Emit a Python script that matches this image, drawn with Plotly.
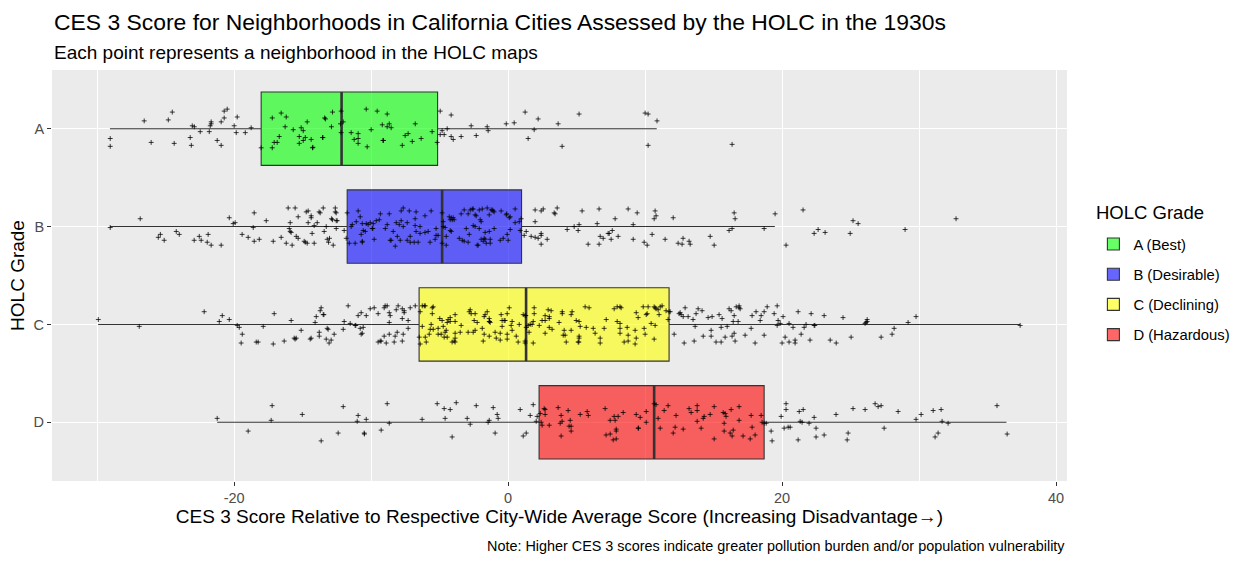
import plotly.graph_objects as go

# ---------------- data ----------------
grades = ["A", "B", "C", "D"]
grade_labels = ["A (Best)", "B (Desirable)", "C (Declining)", "D (Hazardous)"]
grade_colors = ["rgba(0,255,0,0.6)", "rgba(0,0,255,0.6)", "rgba(255,255,0,0.6)", "rgba(255,0,0,0.6)"]

# box statistics (CES 3 score relative to city average)
lower_fence = [-29.07, -29.07, -29.93, -21.24]
q1_vals = [-18.03, -11.75, -6.50, 2.26]
median_vals = [-12.16, -4.82, 1.31, 10.66]
q3_vals = [-5.15, 0.98, 11.75, 18.69]
upper_fence = [10.85, 19.47, 37.37, 36.38]

# neighborhood points: (score, vertical jitter)
A_pts = [(-29.05,0.10),(-29.05,0.18),(-26.57,-0.08),(-26.06,0.14),(-24.81,-0.09),(-24.52,-0.17),(-24.38,0.15),(-23.21,0.09),(-23.13,0.17),(-23.06,-0.03),(-22.91,-0.02),(-22.48,0.03),(-21.82,0.03),(-21.75,-0.03),(-21.68,-0.05),(-21.68,-0.07),(-21.24,0.12),(-20.95,-0.07),(-20.95,0.17),(-20.73,-0.11),(-20.73,-0.18),(-20.51,-0.20),(-20.00,-0.03),(-19.85,0.04),(-19.78,-0.12),(-19.19,0.04),(-18.76,-0.01),(-18.03,0.195),
(-17.22,-0.11),(-17.22,0.195),(-17.08,0.14),(-16.86,0.14),(-16.71,0.08),(-16.57,-0.16),(-16.28,-0.02),(-16.20,-0.12),(-15.69,0.01),(-15.25,0.08),(-15.25,0.15),(-15.11,-0.01),(-14.96,0.02),(-14.96,0.12),(-14.81,0.09),(-14.67,-0.07),(-14.38,0.11),(-14.28,0.195),(-14.25,0.19),(-13.55,0.09),(-13.52,0.09),(-13.40,-0.11),(-13.33,-0.10),(-12.90,-0.02),(-12.82,-0.17),(-12.24,-0.05),(-12.19,-0.18),(-12.19,0.04),(-12.04,-0.07),(-11.46,0.04),(-11.24,0.11),(-10.95,0.05),(-10.95,0.10),(-10.95,0.15),(-10.36,-0.20),(-10.29,0.185),(-10.00,0.01),(-9.56,-0.18),(-9.19,-0.04),(-9.14,0.12),(-9.10,0.12),(-8.83,-0.15),(-8.83,-0.02),(-8.68,-0.05),(-8.54,-0.01),(-7.73,0.17),(-7.52,0.07),(-7.30,0.05),(-7.00,0.13),(-6.78,-0.05),(-6.35,0.10),(-5.55,0.03),(-5.18,0.14),
(-4.96,-0.18),(-4.96,0.06),(-4.82,0.02),(-4.67,0.06),(-4.45,0.00),(-4.16,-0.14),(-4.16,0.08),(-4.01,0.11),(-3.43,0.08),(-2.70,-0.03),(-2.33,0.07),(-1.53,-0.02),(-1.46,0.02),(-0.14,-0.05),(0.44,-0.06),(1.24,-0.17),(1.46,0.10),(1.90,0.01),(2.19,-0.10),(3.65,-0.05),(3.94,0.18),(5.18,-0.15),(10.00,-0.16),(10.22,-0.15),(10.22,0.17),(10.87,-0.08),(16.35,0.16)]

B_pts = [(-29.05,0.01),(-26.86,-0.08),(-25.54,0.11),(-25.39,0.08),(-25.11,0.14),(-24.23,0.05),(-24.01,0.08),(-22.92,0.14),(-22.55,0.10),(-22.41,0.14),(-21.97,0.16),(-21.90,0.08),(-21.68,0.19),(-20.95,0.19),(-20.36,-0.09),(-20.07,-0.03),(-19.93,-0.04),(-19.42,0.08),(-18.98,0.11),(-18.61,0.01),(-18.54,-0.14),(-18.54,0.15),(-18.17,0.13),(-17.66,-0.06),(-17.15,0.15),(-16.57,0.11),(-16.20,0.17),(-16.06,-0.19),(-15.98,0.02),(-15.91,-0.04),(-15.91,0.05),(-15.84,0.06),(-15.77,0.19),(-15.55,-0.19),(-15.47,0.10),(-15.33,-0.10),(-15.33,0.12),(-14.89,0.15),(-14.81,0.16),(-14.74,-0.15),(-14.67,0.17),(-14.60,-0.16),(-14.60,-0.04),(-14.38,-0.11),(-14.38,-0.09),(-14.31,0.07),(-14.16,-0.01),(-14.16,0.17),(-13.94,-0.04),(-13.80,-0.15),(-13.72,-0.14),(-13.50,-0.19),(-13.43,0.05),(-13.28,0.00),(-13.21,0.13),(-13.11,0.16),(-13.04,0.12),(-12.90,-0.08),(-12.82,-0.07),(-12.77,0.19),(-12.62,-0.19),(-12.62,-0.15),(-12.55,-0.14),(-12.55,-0.06),(-12.48,-0.06),(-12.55,0.02),(-11.97,0.04),(-11.82,0.12),(-11.75,-0.14),
(-11.60,0.17),(-11.46,0.00),(-11.38,-0.02),(-11.17,0.17),(-11.09,-0.05),(-10.95,-0.16),(-10.80,-0.10),(-10.73,0.08),(-10.65,-0.03),(-10.65,0.15),(-10.65,0.16),(-10.58,0.04),(-10.43,0.05),(-10.36,-0.03),(-10.22,-0.02),(-10.07,-0.04),(-9.92,0.02),(-9.88,0.02),(-9.85,-0.03),(-9.78,0.13),(-9.63,-0.06),(-9.41,-0.07),(-9.33,-0.13),(-8.97,0.02),(-8.83,-0.02),(-8.68,-0.13),(-8.61,0.14),(-8.54,0.14),(-8.39,0.05),(-8.24,0.20),(-8.17,-0.04),(-8.09,0.10),(-7.95,-0.02),(-7.88,0.14),(-7.81,-0.06),(-7.81,-0.16),(-7.66,-0.19),(-7.66,0.00),(-7.37,-0.04),(-7.37,0.14),(-7.22,-0.16),(-7.15,0.10),(-7.15,0.16),(-6.86,0.16),(-6.79,-0.08),(-6.79,-0.01),(-6.72,-0.15),(-6.72,0.05),(-6.57,0.16),(-6.43,0.00),(-6.43,0.07),(-6.07,-0.11),(-6.07,0.06),(-5.84,0.05),(-5.70,0.16),(-5.62,-0.16),(-5.33,0.13),(-5.26,0.02),(-5.26,0.09),(-5.11,0.09),
(-4.82,-0.14),(-4.74,-0.05),(-4.74,0.00),(-4.60,0.01),(-4.82,0.17),(-4.52,0.10),(-4.52,0.19),(-4.30,-0.10),(-4.23,-0.07),(-4.15,-0.09),(-4.08,-0.07),(-4.01,-0.09),(-3.94,-0.07),(-4.23,0.04),(-4.15,0.05),(-3.57,0.12),(-3.43,-0.13),(-3.35,0.14),(-3.21,-0.17),(-3.21,0.15),(-3.06,0.02),(-2.92,-0.13),(-2.92,0.16),(-2.84,0.08),(-2.77,-0.17),(-2.62,-0.18),(-2.55,-0.18),(-2.55,-0.01),(-2.41,-0.12),(-2.41,0.00),(-2.33,-0.11),(-2.26,0.19),(-2.19,0.19),(-2.11,0.02),(-2.11,-0.17),(-2.04,-0.07),(-1.97,-0.05),(-1.97,0.13),(-1.89,-0.18),(-1.82,0.15),(-1.75,0.12),(-1.68,0.06),(-1.68,0.13),(-1.60,0.17),(-1.53,-0.19),(-1.38,-0.12),(-1.38,0.05),(-1.31,0.13),(-1.31,0.17),(-1.24,-0.17),(-1.16,-0.17),(-1.09,-0.16),(-1.02,-0.15),(-1.02,0.02),(-0.58,0.14),(-0.51,-0.16),(-0.36,0.12),(-0.14,-0.12),(-0.10,-0.13),(-0.07,0.08),(0.00,0.14),(0.08,-0.09),(0.15,-0.10),(0.15,0.03),(0.51,-0.18),(0.51,-0.04),(0.81,-0.05),(0.88,0.04),(0.95,-0.08),
(1.17,0.09),(1.32,0.05),(1.68,0.10),(1.97,-0.17),(1.97,-0.05),(1.97,0.11),(2.19,0.12),(2.41,-0.16),(2.41,0.07),(2.41,0.09),(2.41,0.18),(2.56,-0.18),(2.85,0.13),(3.36,-0.14),(3.43,-0.13),(3.58,-0.19),(4.31,0.03),(4.82,0.00),(5.11,0.04),(5.18,-0.02),(5.40,-0.16),(5.84,0.18),(6.50,-0.03),(6.64,-0.18),(6.64,0.18),(6.72,0.10),(6.94,0.12),(7.30,0.07),(7.38,0.07),(7.52,0.13),(7.60,0.04),(7.81,-0.08),(8.03,0.10),(8.76,-0.18),(9.13,-0.02),(9.13,0.13),(9.42,-0.14),(9.93,0.16),(10.15,0.19),(10.51,0.08),(10.66,-0.08),(10.73,-0.16),(10.80,-0.11),(11.46,0.13),(12.05,-0.09),(12.41,0.17),(12.70,0.18),(12.77,0.12),(13.21,0.15),(13.29,0.18),(14.75,0.10),(15.04,0.19),(16.13,0.04),(16.35,0.02),(16.50,-0.14),(16.57,-0.08),(18.69,0.02),(19.49,-0.13),(20.29,0.19),(21.53,-0.17),(22.34,0.07),(22.63,0.03),(23.14,0.06),(24.97,0.07),(25.18,-0.06),(25.55,-0.03),(28.98,0.03),(32.70,-0.08)]

C_pts = [(-29.92,-0.05),(-26.93,0.02),(-22.19,-0.13),(-21.09,-0.03),(-20.87,-0.09),(-20.36,-0.05),(-19.78,0.01),(-19.63,0.03),(-19.41,0.10),(-19.49,0.19),(-18.39,0.18),(-18.25,0.18),(-17.88,0.02),(-17.15,0.20),(-17.08,-0.11),(-16.35,0.17),(-15.84,-0.04),(-15.62,0.14),(-15.55,0.15),(-15.47,0.14),(-15.11,0.06),(-14.45,0.15),(-14.38,0.14),(-14.09,-0.02),(-14.01,-0.08),(-13.79,0.08),(-13.79,0.12),(-13.72,-0.14),(-13.65,-0.17),(-13.50,-0.10),(-13.45,-0.10),(-13.28,0.15),(-13.21,0.04),(-13.14,0.05),(-13.07,0.19),(-12.92,0.16),(-12.70,0.10),(-12.04,0.05),(-11.97,-0.03),(-11.68,-0.19),(-11.53,-0.01),(-11.17,0.01),(-11.12,0.01),(-10.95,-0.09),(-10.80,0.04),(-10.73,-0.12),(-10.73,0.10),(-10.65,0.09),(-10.58,0.03),(-10.36,-0.09),(-10.07,-0.16),(-9.78,-0.17),(-9.49,0.18),(-9.49,-0.11),(-9.34,0.17),(-9.27,0.17),(-9.05,-0.17),(-9.05,0.12),(-8.98,-0.19),(-8.90,0.19),(-8.83,-0.19),(-8.68,-0.12),(-8.68,0.10),(-8.68,-0.02),(-8.61,-0.09),(-8.32,0.18),(-8.25,0.12),(-8.17,-0.15),(-8.10,0.08),(-8.03,-0.19),(-7.73,-0.06),(-7.73,0.17),(-7.73,-0.16),(-7.66,0.10),(-7.59,-0.14),(-7.59,-0.12),(-7.30,-0.04),(-7.30,0.04),(-7.15,-0.17),(-6.78,-0.19),(-6.49,0.13),(-6.42,0.20),(-6.42,-0.13),(-6.27,-0.19),(-6.27,0.02),(-6.12,-0.19),(-6.05,-0.19),(-6.05,0.13),(-5.98,0.18),(-5.76,0.10),(-5.69,0.05),(-5.62,0.00),(-5.54,-0.17),(-5.54,-0.11),(-5.47,-0.18),(-5.47,0.05),(-5.11,0.04),(-5.11,0.10),
(-4.99,-0.06),(-4.82,-0.04),(-4.89,0.10),(-4.74,0.02),(-4.67,0.13),(-4.60,0.08),(-4.52,0.06),(-4.45,-0.02),(-4.45,0.13),(-4.38,-0.05),(-4.23,-0.07),(-4.23,-0.03),(-4.09,0.18),(-3.94,0.17),(-3.87,-0.10),(-3.87,-0.03),(-3.87,0.09),(-3.87,0.14),(-3.87,0.18),(-3.50,0.08),(-3.43,0.01),(-2.92,0.08),(-2.84,-0.13),(-2.77,-0.15),(-2.70,-0.11),(-2.55,0.08),(-2.48,-0.04),(-2.41,-0.11),(-2.41,0.06),(-2.26,-0.02),(-1.89,0.04),(-1.75,-0.08),(-1.75,0.10),(-1.68,-0.10),(-1.53,-0.13),(-1.38,-0.06),(-1.38,-0.03),(-1.36,-0.03),(-1.31,-0.02),(-1.38,0.12),(-1.82,0.17),(-0.95,0.08),(-0.87,0.14),(-0.58,0.09),(-0.58,0.16),(-0.51,-0.10),(-0.44,-0.04),(-0.44,0.02),(-0.29,-0.04),(-0.22,-0.04),(-0.07,0.10),(-0.07,-0.11),(-0.07,0.15),(0.08,-0.17),(0.22,0.01),(0.29,-0.03),(0.29,0.06),(0.59,0.12),(0.73,0.18),(0.81,0.00),(1.10,-0.10),(1.24,-0.09),(1.29,-0.09),(1.24,0.17),(1.24,0.19),(1.32,0.03),(1.46,0.01),(1.53,0.08),(1.61,0.00),(1.75,0.00),(1.83,-0.03),(1.83,0.19),(1.90,-0.17),(1.90,-0.11),(2.27,0.01),(2.48,-0.04),(2.70,-0.04),(2.70,0.09),(2.70,-0.09),(2.92,-0.15),(3.00,-0.08),(3.00,-0.06),(3.00,0.03),(3.14,-0.14),(3.21,0.05),(3.72,-0.02),(3.95,-0.13),(3.95,-0.11),(4.02,0.11),(4.09,0.06),(4.16,0.11),(4.24,0.18),(4.60,0.06),(4.60,-0.10),(4.67,-0.13),(4.97,-0.04),(5.18,-0.03),(5.18,0.12),(5.18,0.14),(5.26,0.02),(5.11,0.18),(5.16,0.18),(5.62,-0.18),(5.70,0.03),(5.91,-0.17),(6.21,0.04),(6.35,0.09),(6.72,0.14),(6.72,0.19),(7.01,0.04),(7.16,-0.05),(7.74,-0.16),(7.96,-0.18),(7.96,-0.03),(8.17,-0.18),(8.17,-0.01),(8.25,-0.17),(8.17,0.04),(8.17,0.09),(8.47,0.18),(8.69,0.03),(8.76,0.11),(8.76,0.17),(9.27,0.06),(9.27,0.20),(9.35,0.14),(9.35,-0.12),(9.49,-0.07),(9.86,-0.18),(9.93,0.04),(10.00,0.10),(10.08,-0.10),(10.15,-0.11),(10.22,-0.18),(10.44,-0.01),(10.66,0.15),(10.66,-0.18),(10.73,-0.17),(10.73,0.01),(10.80,-0.16),(10.95,-0.15),(11.02,-0.10),(11.10,-0.18),(11.24,-0.19),(11.53,-0.14),(11.68,-0.05),(11.75,-0.13),
(11.83,-0.13),(12.12,0.10),(12.48,-0.11),(12.56,-0.12),(12.63,-0.10),(12.78,-0.08),(12.85,0.19),(12.92,-0.17),(13.14,-0.08),(13.50,-0.05),(13.58,0.17),(13.65,0.02),(13.72,-0.11),(13.87,-0.16),(14.16,-0.14),(14.24,0.12),(14.60,-0.07),(14.82,0.06),(14.82,0.12),(14.89,-0.08),(15.18,0.18),(15.40,-0.10),(15.55,0.03),(15.55,0.18),(15.62,-0.06),(15.84,0.13),(15.99,0.02),(16.13,-0.16),(16.28,-0.14),(16.35,0.12),(16.43,-0.03),(16.50,-0.09),(16.50,0.09),(16.57,0.17),(16.65,-0.18),(16.79,-0.03),(16.86,-0.19),(16.86,-0.17),(16.94,-0.16),(17.30,0.11),(17.74,0.04),(17.81,-0.09),(18.03,0.19),(18.10,-0.13),(18.40,-0.04),(18.47,-0.09),(18.69,-0.13),(18.69,0.11),(18.91,-0.18),(19.42,-0.11),(19.64,-0.19),(19.64,0.01),(19.71,-0.04),(19.86,-0.01),(20.00,0.19),(20.07,-0.08),(20.22,0.13),(20.51,-0.01),(20.51,0.18),(20.80,0.03),(20.95,0.16),(20.95,0.19),(21.17,-0.13),(21.39,0.10),(21.61,0.03),(21.75,0.00),(22.04,0.16),(22.12,-0.11),(22.34,0.01),(22.39,0.01),(23.07,-0.09),(23.51,0.16),(23.95,0.19),
(24.45,-0.07),(25.04,0.13),(26.06,-0.01),(26.13,-0.02),(26.21,-0.03),(26.21,-0.05),(27.23,0.13),(28.03,0.10),(28.18,0.04),(29.20,-0.02),(29.78,-0.08),(37.38,0.01)]

D_pts = [(-21.24,-0.04),(-18.98,0.09),(-17.30,-0.02),(-17.23,-0.17),(-15.03,-0.08),(-13.65,0.19),(-12.41,0.11),(-12.04,-0.16),(-11.02,-0.01),(-10.95,-0.07),(-10.51,0.11),(-10.49,0.12),(-10.36,-0.03),(-9.27,0.08),(-8.83,-0.19),(-8.68,0.01),(-6.28,-0.03),(-5.18,-0.19),
(-4.67,-0.14),(-4.60,-0.04),(-4.23,-0.13),(-4.09,0.15),(-3.79,-0.20),(-2.99,-0.04),(-2.77,0.02),(-2.33,-0.17),(-1.46,0.00),(-1.38,-0.02),(-1.09,-0.15),(-0.95,0.11),(-0.80,-0.08),(-0.73,-0.04),(0.88,-0.13),(1.10,0.14),(1.32,0.11),(1.61,-0.07),(1.83,-0.18),(2.05,-0.01),(2.12,-0.06),(2.34,-0.09),(2.41,0.00),(2.48,0.03),(2.63,-0.14),(2.70,-0.13),(2.70,-0.08),(3.00,0.03),(3.65,-0.15),(3.80,0.01),(3.87,-0.07),(3.87,0.14),(3.94,-0.01),(4.38,-0.12),(4.45,0.04),(4.53,-0.02),(4.60,0.04),(4.60,0.09),(5.26,-0.08),(5.77,-0.11),(5.85,-0.07),(7.08,-0.14),(7.15,0.13),(7.45,-0.02),(7.45,0.12),(7.67,0.18),(7.74,-0.06),(7.81,-0.02),(7.89,0.07),(7.89,0.09),(7.89,0.17),(8.03,-0.06),(8.40,-0.10),(9.35,-0.08),(9.49,0.06),(9.52,0.06),(9.64,-0.05),(10.08,-0.11),(10.08,0.00),(10.66,-0.19),(10.80,-0.18),(10.95,-0.04),(11.10,0.06),(11.39,-0.12),(11.68,-0.17),(12.05,0.11),(12.19,0.05),(12.26,-0.07),(12.78,0.07),(13.21,-0.14),(13.36,-0.10),(13.80,-0.17),(13.80,-0.12),(13.80,-0.01),(14.09,0.06),(14.24,-0.04),(14.31,-0.06),(14.75,-0.08),(15.04,-0.16),(15.04,0.17),(15.70,-0.10),(15.77,0.01),(15.77,0.09),(15.84,-0.09),(15.91,-0.06),(16.21,0.11),(16.28,-0.13),(16.35,0.14),(16.43,0.08),(16.86,-0.16),(16.86,-0.02),(17.15,0.14),(17.67,0.17),(17.74,-0.07),(17.81,0.05),(18.03,0.13),(18.47,-0.07),(18.54,0.00),(18.69,0.01),(18.84,0.01),(19.20,0.09),(19.27,0.19),(19.93,-0.06),(20.15,0.06),(20.29,-0.19),(20.29,-0.13),(20.44,0.05),(20.59,0.05),(21.17,0.18),(21.25,-0.11),(21.32,-0.01),(21.46,0.00),(21.54,-0.13),(21.97,0.01),(22.34,-0.05),(22.48,0.06),(22.48,0.15),(23.07,0.13),(23.94,-0.08),(24.75,0.18),(24.82,0.11),(25.18,-0.14),
(26.06,-0.13),(26.79,-0.19),(27.01,-0.16),(27.23,-0.17),(27.45,0.06),(28.47,-0.11),(29.78,-0.03),(30.15,-0.08),(31.03,-0.12),(31.17,0.15),(31.39,0.11),(31.61,-0.13),(31.68,-0.01),(32.12,0.01),(35.69,-0.17),(36.43,0.12)]

all_pts = [A_pts, B_pts, C_pts, D_pts]

title_text = "CES 3 Score for Neighborhoods in California Cities Assessed by the HOLC in the 1930s"
subtitle_text = "Each point represents a neighborhood in the HOLC maps"
x_title = "CES 3 Score Relative to Respective City-Wide Average Score (Increasing Disadvantage\u2192)"
y_title = "HOLC Grade"
legend_title = "HOLC Grade"
caption_text = "Note: Higher CES 3 scores indicate greater pollution burden and/or population vulnerability"

# ---------------- figure ----------------
FONT = "Liberation Sans, Arial, sans-serif"
BOX_W = 0.75
fig = go.Figure()

positions = list(range(1, len(grades) + 1))

for i, g in enumerate(grades):
    fig.add_trace(go.Box(
        y=[positions[i]], q1=[q1_vals[i]], median=[median_vals[i]], q3=[q3_vals[i]],
        lowerfence=[lower_fence[i]], upperfence=[upper_fence[i]],
        orientation="h", width=BOX_W, whiskerwidth=0,
        fillcolor=grade_colors[i], line=dict(color="#333333", width=1.1),
        boxpoints=False, name=grade_labels[i], legendgroup=g, showlegend=True,
        hoverinfo="skip",
    ))

# thick median lines
mx, my = [], []
for i in range(len(grades)):
    mx += [median_vals[i], median_vals[i], None]
    my += [positions[i] - BOX_W / 2, positions[i] + BOX_W / 2, None]
fig.add_trace(go.Scatter(x=mx, y=my, mode="lines", line=dict(color="#333333", width=2.6),
                         showlegend=False, hoverinfo="skip"))

# jittered points
px, py = [], []
for i, pts in enumerate(all_pts):
    for v, j in pts:
        px.append(v)
        py.append(positions[i] + j)
fig.add_trace(go.Scatter(
    x=px, y=py, mode="markers",
    marker=dict(symbol="cross-thin-open", size=3.5, line=dict(width=0.9, color="rgba(0,0,0,0.85)"), color="rgba(0,0,0,0.85)"),
    showlegend=False, hoverinfo="skip",
))

fig.update_layout(
    width=1250, height=562,
    margin=dict(l=52, r=183, t=70, b=81),
    paper_bgcolor="white", plot_bgcolor="#EBEBEB",
    font=dict(family=FONT, color="black"),
    boxmode="overlay", hovermode=False,
    xaxis=dict(
        range=[-33.3, 40.8], tickvals=[-20, 0, 20, 40], ticktext=["-20", "0", "20", "40"],
        showgrid=True, gridcolor="white", gridwidth=1.1, zeroline=False, showline=False,
        ticks="outside", ticklen=4, tickwidth=1.1, tickcolor="#333333",
        tickfont=dict(size=14.5, color="#4D4D4D"),
        minor=dict(tickvals=[-30, -10, 10, 30], showgrid=True, gridcolor="white", gridwidth=0.55, ticks=""),
        title=dict(text=x_title, font=dict(size=19, color="black"), standoff=4),
    ),
    yaxis=dict(
        range=[4.6, 0.4], tickvals=positions, ticktext=grades,
        showgrid=True, gridcolor="white", gridwidth=1.1, zeroline=False, showline=False,
        ticks="outside", ticklen=4, tickwidth=1.1, tickcolor="#333333",
        tickfont=dict(size=14.5, color="#4D4D4D"),
        title=dict(text=y_title, font=dict(size=19, color="black"), standoff=3),
    ),
    legend=dict(
        x=1.026, xanchor="left", y=0.616, yanchor="top",
        font=dict(size=14.8, color="black"), tracegroupgap=8, bgcolor="rgba(0,0,0,0)",
    ),
    annotations=[
        dict(text=title_text, x=0, xref="paper", xanchor="left", y=(481 - 22) / 411, yref="paper",
             yanchor="middle", showarrow=False, font=dict(size=22.9, color="black")),
        dict(text=subtitle_text, x=0, xref="paper", xanchor="left", y=(481 - 52) / 411, yref="paper",
             yanchor="middle", showarrow=False, font=dict(size=19, color="black")),
        dict(text=caption_text, x=1, xref="paper", xanchor="right", y=(481 - 546) / 411, yref="paper",
             yanchor="middle", showarrow=False, font=dict(size=14.4, color="black")),
        dict(text=legend_title, x=(1094 - 52) / 1015, xref="paper", xanchor="left", y=(481 - 212) / 411,
             yref="paper", yanchor="middle", showarrow=False, font=dict(size=18.5, color="black")),
    ],
)

fig.write_html("out.html")
